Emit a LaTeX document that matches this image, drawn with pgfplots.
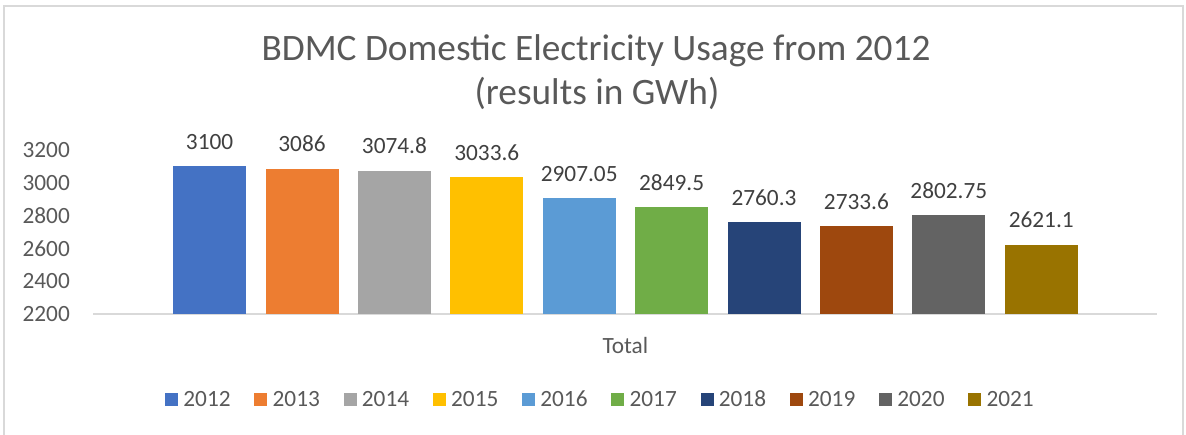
\documentclass[border=0pt]{standalone}
\usepackage{fontspec}
\setmainfont{Carlito}
\usepackage{pgfplots}
\pgfplotsset{compat=1.18}
\definecolor{txt}{HTML}{595959}
\definecolor{lbl}{HTML}{404040}
\definecolor{axl}{HTML}{D9D9D9}
\definecolor{c12}{HTML}{4472C4}
\definecolor{c13}{HTML}{ED7D31}
\definecolor{c14}{HTML}{A5A5A5}
\definecolor{c15}{HTML}{FFC000}
\definecolor{c16}{HTML}{5B9BD5}
\definecolor{c17}{HTML}{70AD47}
\definecolor{c18}{HTML}{264478}
\definecolor{c19}{HTML}{9E480E}
\definecolor{c20}{HTML}{636363}
\definecolor{c21}{HTML}{997300}
\begin{document}
\begin{tikzpicture}
\useasboundingbox (0,0) rectangle (1186pt,434pt);
\draw[axl, line width=1.5pt] (4pt,-10pt) -- (4pt,428pt) -- (1183pt,428pt) -- (1183pt,-10pt);
\node[anchor=base, text=txt, inner sep=0pt, font=\fontsize{37.3pt}{40pt}\selectfont] at (596pt,373.3pt) {BDMC Domestic Electricity Usage from 2012};
\node[anchor=base, text=txt, inner sep=0pt, font=\fontsize{37.3pt}{40pt}\selectfont] at (597pt,329pt) {(results in GWh)};
\begin{axis}[
  at={(93pt,120pt)}, anchor=south west,
  scale only axis, width=1064pt, height=164pt,
  ybar, bar shift=0pt, bar width=0.79,
  xmin=-0.262, xmax=11.253, ymin=2200, ymax=3200,
  clip=false,
  axis x line*=bottom, axis y line*=left,
  y axis line style={draw=none},
  x axis line style={color=axl, line width=1.5pt},
  tick style={draw=none}, major tick length=0pt,
  xtick={5.5}, xticklabels={Total},
  ytick={2200,2400,2600,2800,3000,3200},
  yticklabels={2200,2400,2600,2800,3000,3200},
  xticklabel style={anchor=base, inner sep=0pt, yshift=-39.3pt, text=txt, font=\fontsize{23.3pt}{28pt}\selectfont},
  yticklabel style={anchor=east, inner sep=0pt, xshift=-23pt, text=txt, font=\fontsize{23.3pt}{28pt}\selectfont},
  point meta=explicit symbolic,
  nodes near coords,
  every node near coord/.append style={anchor=base, inner sep=0pt, yshift=17pt, text=lbl, font=\fontsize{23.3pt}{28pt}\selectfont},
  legend columns=10,
  legend image code/.code={\fill[#1] (0pt,-6.5pt) rectangle (13pt,6.5pt);},
  legend style={draw=none, fill=none, at={(0.476,-0.5213)}, anchor=center, inner sep=0pt,
    font=\fontsize{23.3pt}{28pt}\selectfont, text=txt,
    nodes={inner sep=0pt},
    /tikz/every odd column/.append style={column sep=5.3pt},
    /tikz/every even column/.append style={column sep=23.7pt}},
]
\addplot[fill=c12, draw=none] coordinates {(1,3100) [3100]};
\addplot[fill=c13, draw=none] coordinates {(2,3086) [3086]};
\addplot[fill=c14, draw=none] coordinates {(3,3074.8) [3074.8]};
\addplot[fill=c15, draw=none] coordinates {(4,3033.6) [3033.6]};
\addplot[fill=c16, draw=none] coordinates {(5,2907.05) [2907.05]};
\addplot[fill=c17, draw=none] coordinates {(6,2849.5) [2849.5]};
\addplot[fill=c18, draw=none] coordinates {(7,2760.3) [2760.3]};
\addplot[fill=c19, draw=none] coordinates {(8,2733.6) [2733.6]};
\addplot[fill=c20, draw=none] coordinates {(9,2802.75) [2802.75]};
\addplot[fill=c21, draw=none] coordinates {(10,2621.1) [2621.1]};
\legend{2012,2013,2014,2015,2016,2017,2018,2019,2020,2021}
\end{axis}
\end{tikzpicture}
\end{document}
